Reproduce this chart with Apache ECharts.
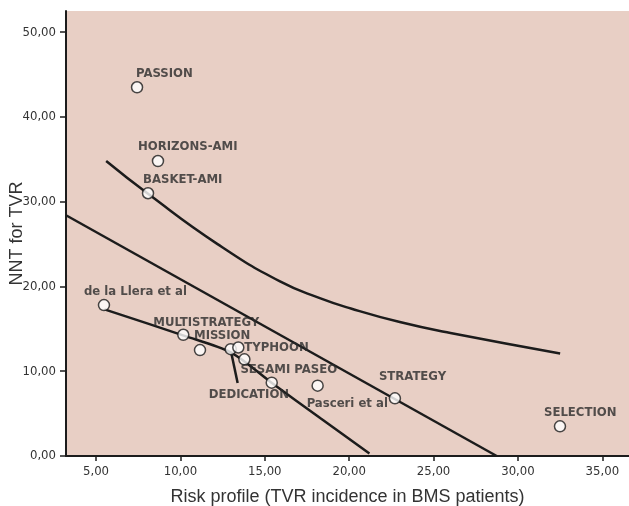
<!DOCTYPE html>
<html>
<head>
<meta charset="utf-8">
<script src="https://cdn.jsdelivr.net/npm/echarts@6/dist/echarts.min.js"></script>
<style>
  html, body { margin: 0; padding: 0; background: #fff; }
  #main { width: 629px; height: 506px; }
</style>
</head>
<body>
<div id="main"></div>
<script>
// studies (risk profile vs NNT)
var studyNames = ['PASSION', 'HORIZONS-AMI', 'BASKET-AMI', 'de la Llera et al', 'MULTISTRATEGY',
    'MISSION', 'DEDICATION', 'TYPHOON', 'SESAMI', 'PASEO', 'Pasceri et al', 'STRATEGY', 'SELECTION'];
var studyLabels = ['PASSION', 'HORIZONS-AMI', 'BASKET-AMI', 'de la Llera et al', 'MULTISTRATEGY',
    'MISSION', 'DEDICATION', 'TYPHOON', 'SESAMI PASEO', '', 'Pasceri et al', 'STRATEGY', 'SELECTION'];
var riskX = [7.43, 8.67, 8.08, 5.47, 10.17, 11.16, 12.98, 13.43, 13.79, 15.41, 18.13, 22.71, 32.49];
var nntY = [43.5, 34.8, 31.0, 17.8, 14.3, 12.5, 12.6, 12.8, 11.4, 8.65, 8.3, 6.8, 3.5];

// fitted curves
var upperCurve = [[5.6, 34.8], [8.1, 30.9], [12.2, 25.0], [15.9, 20.6], [18.3, 18.6],
    [20.1, 17.4], [23.0, 15.8], [26.0, 14.5], [32.5, 12.1]];
var middleLine = [[3.22, 28.4], [28.74, 0.0]];
var lowerCurve = [[5.5, 17.3], [10.2, 14.2], [13.0, 12.2], [15.3, 8.8], [18.3, 4.45], [21.2, 0.3]];
var leaderLine = [[13.0, 12.3], [13.39, 8.6]];

var xTicks = [5, 10, 15, 20, 25, 30, 35];
var yTicks = [0, 10, 20, 30, 40, 50];

// label placement (px, left edge / vertical centre relative to the marker)
var labelOffset = {
    'PASSION': [-1, -14],
    'HORIZONS-AMI': [-20, -14],
    'BASKET-AMI': [-5, -14],
    'de la Llera et al': [-20, -13],
    'MULTISTRATEGY': [-30, -12],
    'MISSION': [-6, -14],
    'DEDICATION': [-22, 45],
    'TYPHOON': [6, 0],
    'SESAMI': [-4, 10],
    'PASEO': [0, 0],
    'Pasceri et al': [-11, 18],
    'STRATEGY': [-16, -22],
    'SELECTION': [-16, -14]
};

var ink = '#1c1c1c';
var condFont = "'DejaVu Sans Condensed', 'Liberation Sans', sans-serif";
var fmt = function (v) { return v.toFixed(2).replace('.', ','); };

var points = studyNames.map(function (n, i) {
    return {
        name: n,
        value: [riskX[i], nntY[i]],
        label: {
            show: studyLabels[i] !== '',
            formatter: studyLabels[i],
            offset: labelOffset[n]
        }
    };
});

function curve(data, smooth) {
    return {
        type: 'line',
        data: data,
        smooth: smooth,
        showSymbol: false,
        symbol: 'none',
        silent: true,
        z: 2,
        lineStyle: { color: ink, width: 2.5 }
    };
}

var myChart = echarts.init(document.getElementById('main'), null, { renderer: 'canvas' });
var option = {
    backgroundColor: '#ffffff',
    animation: false,
    grid: {
        left: 66, right: 0, top: 11, bottom: 50,
        containLabel: false, outerBoundsMode: 'none',
        show: true, backgroundColor: '#e8cfc5', borderWidth: 0
    },
    xAxis: {
        type: 'value',
        min: 3.22,
        max: 36.58,
        name: 'Risk profile (TVR incidence in BMS patients)',
        nameLocation: 'middle',
        nameGap: 32,
        nameMoveOverlap: false,
        nameTextStyle: { fontFamily: 'Liberation Sans', fontSize: 18, color: '#333' },
        splitLine: { show: false },
        axisLine: { onZero: false, lineStyle: { color: ink, width: 2 } },
        axisTick: { customValues: xTicks, length: 5, lineStyle: { color: ink, width: 1.5 } },
        axisLabel: {
            customValues: xTicks, formatter: fmt, margin: 9,
            fontFamily: condFont, fontSize: 13, color: '#333'
        }
    },
    yAxis: {
        type: 'value',
        min: 0,
        max: 52.5,
        name: 'NNT for TVR',
        nameLocation: 'middle',
        nameGap: 40,
        nameMoveOverlap: false,
        nameTextStyle: { fontFamily: 'Liberation Sans', fontSize: 18, color: '#333' },
        splitLine: { show: false },
        axisLine: { onZero: false, lineStyle: { color: ink, width: 2 } },
        axisTick: { customValues: yTicks, length: 6, lineStyle: { color: ink, width: 1.5 } },
        axisLabel: {
            customValues: yTicks, formatter: fmt, margin: 10,
            fontFamily: condFont, fontSize: 13, color: '#333'
        }
    },
    series: [
        curve(upperCurve, true),
        curve(middleLine, false),
        curve(lowerCurve, 0.3),
        curve(leaderLine, false),
        {
            type: 'scatter',
            data: points,
            symbol: 'circle',
            symbolSize: 11,
            z: 5,
            itemStyle: { color: '#ffffff', borderColor: ink, borderWidth: 1.5 },
            label: {
                position: 'inside',
                align: 'left',
                verticalAlign: 'middle',
                fontFamily: condFont,
                fontWeight: 'bold',
                fontSize: 13,
                color: '#2b2b2b'
            },
            emphasis: { disabled: true }
        }
    ]
};
myChart.setOption(option);
</script>
</body>
</html>
